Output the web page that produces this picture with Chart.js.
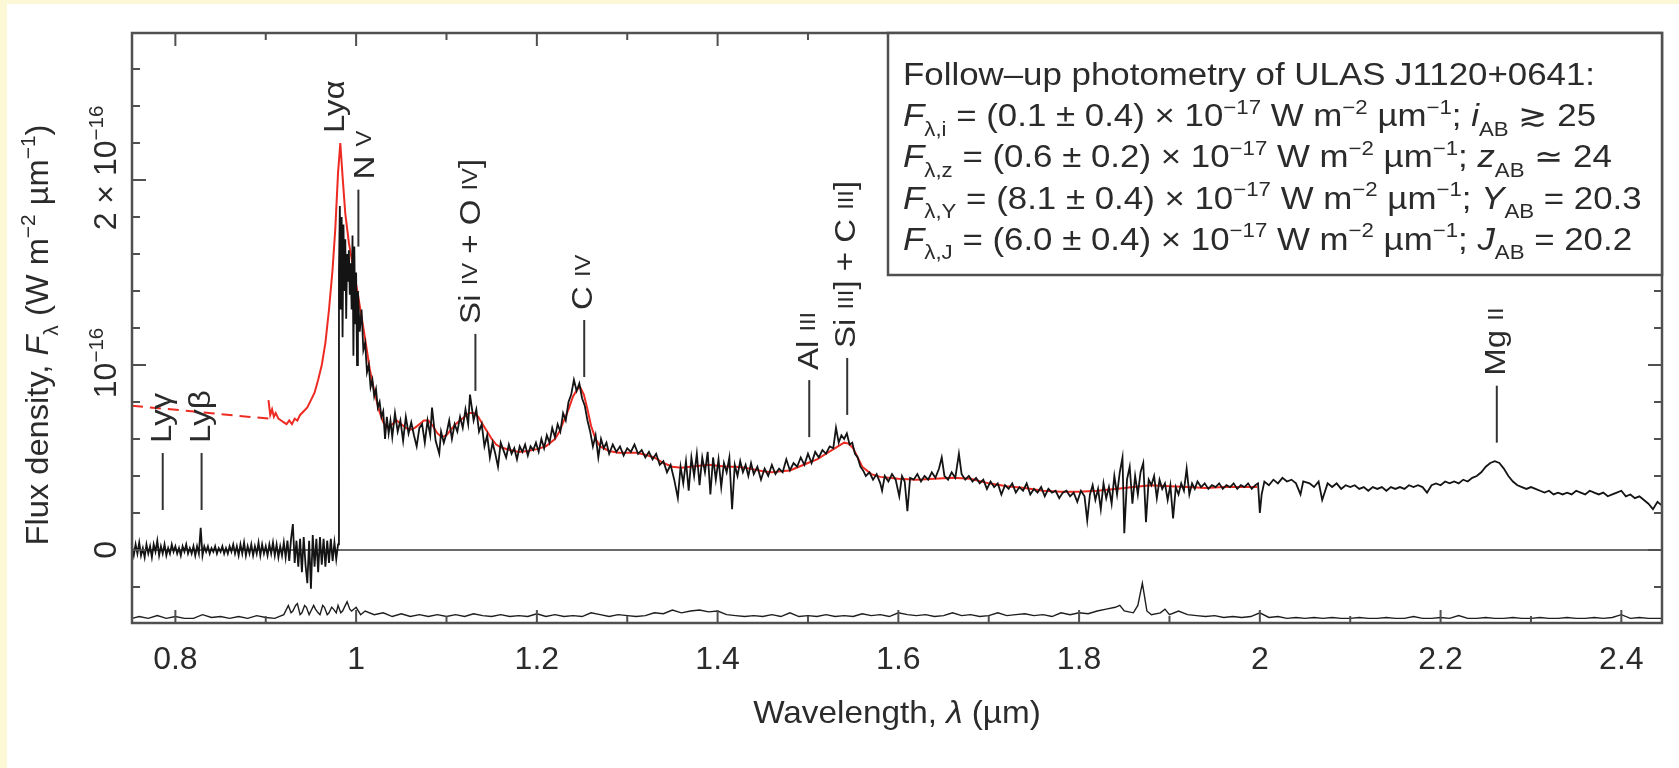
<!DOCTYPE html>
<html>
<head>
<meta charset="utf-8">
<title>ULAS J1120+0641 spectrum</title>
<script src="https://cdn.jsdelivr.net/npm/chart.js@4.4.1/dist/chart.umd.min.js"></script>
<style>
  html, body { margin: 0; padding: 0; background: #fcf8d6; }
  #wrap { width: 1679px; height: 768px; position: relative; }
</style>
</head>
<body>
<div id="wrap"><canvas id="spectrum"></canvas></div>
<script>
// flux in units of 1e-16 W m^-2 um^-1, wavelength in um
const waveRange = [0.752, 2.445];
const fluxRange = [-0.395, 2.795];

// observed spectrum (black)
const observedFlux = [
  [0.752, 0.02], [0.754, -0.03], [0.756, 0.03], [0.758, -0.02], [0.760, 0.04], [0.762, -0.03],
  [0.764, 0.01], [0.766, -0.04], [0.768, 0.03], [0.770, -0.02], [0.772, 0.02], [0.774, -0.04],
  [0.776, 0.03], [0.778, -0.01], [0.780, 0.05], [0.782, -0.03], [0.784, 0.02], [0.786, -0.02],
  [0.788, 0.03], [0.790, -0.03], [0.792, 0.01], [0.794, -0.02], [0.796, 0.03], [0.798, -0.01],
  [0.800, 0.02], [0.802, -0.02], [0.804, 0.01], [0.806, -0.03], [0.808, 0.02], [0.810, -0.01],
  [0.812, 0.03], [0.814, -0.02], [0.816, 0.01], [0.818, -0.02], [0.820, 0.02], [0.822, -0.03],
  [0.824, 0.02], [0.826, -0.02], [0.828, 0.12], [0.830, -0.03], [0.832, 0.02], [0.834, -0.01],
  [0.836, 0.02], [0.838, -0.02], [0.840, 0.01], [0.842, -0.01], [0.844, 0.02], [0.846, -0.02],
  [0.848, 0.01], [0.850, -0.01], [0.852, 0.02], [0.854, -0.02], [0.856, 0.01], [0.858, -0.02],
  [0.860, 0.02], [0.862, -0.01], [0.864, 0.03], [0.866, -0.02], [0.868, 0.02], [0.870, -0.03],
  [0.872, 0.03], [0.874, -0.02], [0.876, 0.04], [0.878, -0.03], [0.880, 0.02], [0.882, -0.02],
  [0.884, 0.03], [0.886, -0.03], [0.888, 0.02], [0.890, -0.02], [0.892, 0.04], [0.894, -0.03],
  [0.896, 0.03], [0.898, -0.02], [0.900, 0.02], [0.902, -0.03], [0.904, 0.03], [0.906, -0.02],
  [0.908, 0.04], [0.910, -0.03], [0.912, 0.03], [0.914, -0.04], [0.916, 0.02], [0.918, -0.03],
  [0.920, 0.04], [0.922, -0.04], [0.924, 0.05], [0.926, -0.06], [0.928, 0.06], [0.930, 0.14],
  [0.932, -0.07], [0.934, 0.05], [0.936, -0.09], [0.938, 0.06], [0.940, -0.12], [0.942, 0.07],
  [0.944, -0.08], [0.946, -0.18], [0.948, 0.05], [0.950, -0.21], [0.952, 0.08], [0.954, -0.09],
  [0.956, 0.06], [0.958, -0.12], [0.960, 0.07], [0.962, -0.08], [0.964, 0.06], [0.966, -0.09],
  [0.968, 0.05], [0.970, -0.07], [0.972, 0.06], [0.974, -0.06], [0.976, 0.04], [0.978, -0.05],
  [0.980, 0.03],
  [0.981, 1.50], [0.982, 1.86], [0.983, 1.30], [0.984, 1.80], [0.985, 1.15], [0.986, 1.76],
  [0.987, 1.40], [0.988, 1.68], [0.989, 1.25], [0.990, 1.60], [0.991, 1.45], [0.992, 1.62],
  [0.993, 1.38], [0.994, 1.55], [0.995, 1.30], [0.996, 1.70], [0.997, 1.05], [0.998, 1.64],
  [0.999, 1.22], [1.000, 1.50], [1.001, 1.00], [1.002, 1.40], [1.004, 1.18], [1.006, 1.30],
  [1.008, 1.08], [1.010, 1.12], [1.012, 0.96], [1.014, 1.00], [1.016, 0.88], [1.018, 0.92],
  [1.020, 0.83], [1.022, 0.87], [1.024, 0.77], [1.026, 0.80], [1.028, 0.72], [1.030, 0.75],
  [1.032, 0.60], [1.034, 0.72], [1.036, 0.63], [1.038, 0.70], [1.040, 0.61], [1.043, 0.74],
  [1.046, 0.64], [1.049, 0.70], [1.052, 0.59], [1.055, 0.72], [1.058, 0.63], [1.061, 0.69],
  [1.064, 0.62], [1.067, 0.56], [1.070, 0.66], [1.073, 0.68], [1.076, 0.58], [1.079, 0.70],
  [1.082, 0.62], [1.084, 0.77], [1.088, 0.59], [1.092, 0.52], [1.094, 0.64], [1.097, 0.58],
  [1.100, 0.63], [1.103, 0.70], [1.106, 0.60], [1.109, 0.68], [1.112, 0.64], [1.115, 0.72],
  [1.118, 0.66], [1.121, 0.76], [1.124, 0.68], [1.126, 0.84], [1.130, 0.70], [1.133, 0.76],
  [1.136, 0.64], [1.139, 0.68], [1.142, 0.56], [1.145, 0.62], [1.148, 0.50], [1.151, 0.58],
  [1.154, 0.52], [1.157, 0.45], [1.160, 0.58], [1.163, 0.54], [1.166, 0.50], [1.169, 0.57],
  [1.172, 0.52], [1.175, 0.55], [1.178, 0.49], [1.181, 0.56], [1.184, 0.53], [1.187, 0.57],
  [1.190, 0.51], [1.193, 0.56], [1.196, 0.54], [1.199, 0.58], [1.202, 0.53], [1.205, 0.60],
  [1.208, 0.55], [1.211, 0.62], [1.214, 0.58], [1.217, 0.66], [1.220, 0.61], [1.223, 0.68],
  [1.226, 0.64], [1.229, 0.74], [1.232, 0.70], [1.235, 0.80], [1.238, 0.84], [1.241, 0.92],
  [1.244, 0.86], [1.247, 0.90], [1.250, 0.82], [1.253, 0.78], [1.256, 0.70], [1.259, 0.64],
  [1.262, 0.56], [1.265, 0.62], [1.268, 0.50], [1.271, 0.60], [1.274, 0.55], [1.277, 0.58],
  [1.280, 0.52], [1.284, 0.57], [1.288, 0.53], [1.292, 0.56], [1.296, 0.51], [1.300, 0.55],
  [1.304, 0.53], [1.308, 0.57], [1.312, 0.52], [1.316, 0.54], [1.320, 0.50], [1.324, 0.53],
  [1.328, 0.49], [1.332, 0.52], [1.336, 0.46], [1.340, 0.48], [1.344, 0.42], [1.348, 0.46],
  [1.352, 0.38], [1.356, 0.28], [1.359, 0.45], [1.362, 0.36], [1.365, 0.48], [1.368, 0.32],
  [1.371, 0.50], [1.374, 0.40], [1.377, 0.52], [1.380, 0.35], [1.383, 0.50], [1.386, 0.42],
  [1.389, 0.53], [1.392, 0.30], [1.395, 0.50], [1.398, 0.38], [1.401, 0.49], [1.404, 0.34],
  [1.407, 0.47], [1.410, 0.42], [1.413, 0.50], [1.416, 0.22], [1.419, 0.46], [1.422, 0.40],
  [1.425, 0.48], [1.428, 0.42], [1.431, 0.46], [1.434, 0.40], [1.437, 0.47], [1.440, 0.41],
  [1.444, 0.45], [1.448, 0.38], [1.452, 0.44], [1.456, 0.40], [1.460, 0.46], [1.464, 0.41],
  [1.468, 0.44], [1.472, 0.42], [1.476, 0.49], [1.480, 0.43], [1.484, 0.47], [1.488, 0.45],
  [1.492, 0.50], [1.496, 0.46], [1.500, 0.52], [1.504, 0.47], [1.508, 0.53], [1.512, 0.50],
  [1.516, 0.54], [1.520, 0.52], [1.524, 0.56], [1.528, 0.55], [1.531, 0.66], [1.534, 0.58],
  [1.537, 0.62], [1.540, 0.60], [1.543, 0.63], [1.546, 0.57], [1.549, 0.58], [1.552, 0.52],
  [1.555, 0.50], [1.558, 0.45], [1.561, 0.43], [1.564, 0.40], [1.568, 0.42], [1.572, 0.38],
  [1.576, 0.41], [1.580, 0.36], [1.582, 0.32], [1.585, 0.40], [1.589, 0.37], [1.593, 0.41],
  [1.597, 0.38], [1.601, 0.29], [1.604, 0.40], [1.607, 0.37], [1.610, 0.21], [1.613, 0.39],
  [1.617, 0.38], [1.621, 0.41], [1.625, 0.37], [1.629, 0.40], [1.633, 0.38], [1.637, 0.42],
  [1.641, 0.39], [1.645, 0.44], [1.648, 0.50], [1.651, 0.40], [1.655, 0.38], [1.659, 0.42],
  [1.663, 0.39], [1.667, 0.52], [1.670, 0.41], [1.674, 0.38], [1.678, 0.40], [1.682, 0.37],
  [1.686, 0.39], [1.690, 0.36], [1.694, 0.38], [1.698, 0.33], [1.702, 0.37], [1.706, 0.34],
  [1.710, 0.36], [1.714, 0.30], [1.718, 0.35], [1.722, 0.33], [1.726, 0.36], [1.730, 0.31],
  [1.734, 0.34], [1.738, 0.32], [1.742, 0.36], [1.746, 0.30], [1.750, 0.33], [1.754, 0.31],
  [1.758, 0.34], [1.762, 0.29], [1.766, 0.33], [1.770, 0.31], [1.774, 0.32], [1.778, 0.28],
  [1.782, 0.31], [1.786, 0.32], [1.790, 0.29], [1.794, 0.31], [1.798, 0.26], [1.802, 0.32],
  [1.806, 0.29], [1.809, 0.16], [1.812, 0.30], [1.815, 0.35], [1.818, 0.27], [1.821, 0.33],
  [1.824, 0.22], [1.827, 0.36], [1.830, 0.28], [1.833, 0.34], [1.836, 0.25], [1.839, 0.40],
  [1.842, 0.30], [1.845, 0.42], [1.848, 0.50], [1.850, 0.09], [1.853, 0.38], [1.856, 0.45],
  [1.859, 0.25], [1.862, 0.40], [1.865, 0.30], [1.868, 0.42], [1.871, 0.47], [1.874, 0.15],
  [1.877, 0.38], [1.880, 0.35], [1.883, 0.40], [1.886, 0.28], [1.889, 0.38], [1.892, 0.33],
  [1.895, 0.36], [1.898, 0.27], [1.901, 0.35], [1.904, 0.17], [1.907, 0.34], [1.910, 0.30],
  [1.913, 0.36], [1.916, 0.32], [1.919, 0.44], [1.922, 0.30], [1.925, 0.36], [1.928, 0.33],
  [1.931, 0.37], [1.935, 0.34], [1.939, 0.36], [1.943, 0.33], [1.947, 0.35], [1.951, 0.34],
  [1.955, 0.36], [1.959, 0.33], [1.963, 0.35], [1.967, 0.34], [1.971, 0.36], [1.975, 0.33],
  [1.979, 0.35], [1.983, 0.34], [1.987, 0.36], [1.991, 0.33], [1.995, 0.35], [1.998, 0.36],
  [2.000, 0.20], [2.002, 0.30], [2.005, 0.37], [2.010, 0.35], [2.015, 0.38], [2.020, 0.36],
  [2.025, 0.39], [2.030, 0.37], [2.035, 0.38], [2.040, 0.36], [2.045, 0.30], [2.048, 0.37],
  [2.055, 0.36], [2.060, 0.34], [2.065, 0.37], [2.069, 0.27], [2.075, 0.36], [2.080, 0.34],
  [2.085, 0.36], [2.090, 0.33], [2.095, 0.35], [2.100, 0.34], [2.105, 0.35], [2.110, 0.33],
  [2.115, 0.34], [2.120, 0.32], [2.125, 0.34], [2.130, 0.33], [2.135, 0.34], [2.140, 0.32],
  [2.145, 0.34], [2.150, 0.33], [2.155, 0.34], [2.160, 0.33], [2.165, 0.35], [2.170, 0.34],
  [2.175, 0.35], [2.180, 0.34], [2.185, 0.31], [2.190, 0.35], [2.195, 0.36], [2.200, 0.35],
  [2.205, 0.37], [2.210, 0.36], [2.215, 0.37], [2.220, 0.36], [2.225, 0.38], [2.230, 0.37],
  [2.235, 0.39], [2.240, 0.40], [2.245, 0.42], [2.250, 0.45], [2.255, 0.47], [2.260, 0.48],
  [2.265, 0.47], [2.270, 0.44], [2.275, 0.40], [2.280, 0.37], [2.285, 0.35], [2.290, 0.34],
  [2.295, 0.33], [2.300, 0.34], [2.305, 0.33], [2.310, 0.32], [2.315, 0.31], [2.320, 0.32],
  [2.325, 0.30], [2.330, 0.31], [2.335, 0.30], [2.340, 0.31], [2.345, 0.30], [2.350, 0.32],
  [2.355, 0.31], [2.360, 0.30], [2.365, 0.32], [2.370, 0.31], [2.375, 0.30], [2.380, 0.31],
  [2.385, 0.29], [2.390, 0.30], [2.395, 0.31], [2.400, 0.32], [2.405, 0.29], [2.410, 0.30],
  [2.415, 0.28], [2.420, 0.29], [2.425, 0.27], [2.430, 0.25], [2.435, 0.22], [2.440, 0.26],
  [2.445, 0.24]
];

// composite quasar model (red solid)
const modelFlux = [
  [0.903, 0.81], [0.905, 0.73], [0.907, 0.76], [0.909, 0.72], [0.911, 0.74], [0.914, 0.71],
  [0.917, 0.70], [0.920, 0.69], [0.923, 0.68], [0.926, 0.70], [0.929, 0.68], [0.932, 0.71],
  [0.935, 0.70], [0.938, 0.73], [0.942, 0.75], [0.946, 0.77], [0.950, 0.81], [0.954, 0.85],
  [0.958, 0.92], [0.962, 1.00], [0.966, 1.12], [0.970, 1.30], [0.974, 1.52], [0.977, 1.74],
  [0.980, 2.04], [0.9825, 2.20], [0.985, 2.02], [0.988, 1.82], [0.992, 1.66], [0.997, 1.52],
  [1.002, 1.38], [1.006, 1.26], [1.010, 1.14], [1.015, 0.98], [1.020, 0.86], [1.025, 0.76],
  [1.030, 0.69], [1.035, 0.66], [1.040, 0.68], [1.045, 0.70], [1.050, 0.68], [1.055, 0.66],
  [1.060, 0.65], [1.065, 0.66], [1.070, 0.68], [1.075, 0.70], [1.080, 0.70], [1.085, 0.67],
  [1.090, 0.63], [1.095, 0.61], [1.100, 0.62], [1.105, 0.65], [1.110, 0.68], [1.115, 0.70],
  [1.120, 0.72], [1.125, 0.74], [1.130, 0.74], [1.135, 0.72], [1.140, 0.68], [1.145, 0.64],
  [1.150, 0.60], [1.155, 0.57], [1.160, 0.555], [1.170, 0.54], [1.180, 0.53], [1.190, 0.535],
  [1.200, 0.545], [1.210, 0.56], [1.220, 0.60], [1.225, 0.64], [1.230, 0.70], [1.235, 0.76],
  [1.240, 0.83], [1.245, 0.87], [1.248, 0.88], [1.252, 0.84], [1.256, 0.76], [1.260, 0.67],
  [1.265, 0.60], [1.270, 0.56], [1.280, 0.535], [1.290, 0.525], [1.300, 0.525], [1.310, 0.525],
  [1.320, 0.515], [1.330, 0.50], [1.340, 0.47], [1.350, 0.45], [1.360, 0.445], [1.370, 0.45],
  [1.380, 0.455], [1.390, 0.46], [1.400, 0.455], [1.410, 0.45], [1.420, 0.45], [1.430, 0.445],
  [1.440, 0.435], [1.450, 0.425], [1.460, 0.42], [1.470, 0.425], [1.480, 0.43], [1.490, 0.45],
  [1.500, 0.47], [1.510, 0.49], [1.520, 0.52], [1.530, 0.55], [1.540, 0.58], [1.545, 0.575],
  [1.550, 0.55], [1.555, 0.50], [1.560, 0.45], [1.570, 0.41], [1.580, 0.395], [1.600, 0.385],
  [1.620, 0.38], [1.640, 0.385], [1.660, 0.39], [1.680, 0.385], [1.700, 0.36], [1.720, 0.345],
  [1.740, 0.335], [1.760, 0.32], [1.780, 0.315], [1.800, 0.315], [1.820, 0.32], [1.840, 0.33],
  [1.860, 0.34], [1.880, 0.35], [1.900, 0.345], [1.920, 0.34], [1.940, 0.335], [1.960, 0.34],
  [1.980, 0.34], [1.997, 0.34]
];

// model continuation blueward of the data (red dashed)
const modelExtension = [[0.752, 0.78], [0.903, 0.71]];

// noise spectrum (bottom trace)
const noiseFlux = [
  [0.752, -0.37], [0.760, -0.36], [0.770, -0.37], [0.780, -0.355], [0.790, -0.37], [0.800, -0.36],
  [0.810, -0.37], [0.820, -0.37], [0.830, -0.35], [0.840, -0.365], [0.850, -0.36], [0.860, -0.37],
  [0.870, -0.36], [0.880, -0.37], [0.890, -0.355], [0.900, -0.365], [0.910, -0.37], [0.920, -0.35],
  [0.925, -0.30], [0.928, -0.34], [0.930, -0.33], [0.933, -0.30], [0.935, -0.29], [0.938, -0.35],
  [0.940, -0.34], [0.943, -0.30], [0.945, -0.31], [0.948, -0.35], [0.950, -0.33], [0.953, -0.30],
  [0.955, -0.32], [0.958, -0.34], [0.960, -0.35], [0.963, -0.30], [0.965, -0.31], [0.968, -0.35],
  [0.970, -0.34], [0.973, -0.31], [0.975, -0.32], [0.978, -0.34], [0.980, -0.30], [0.983, -0.34],
  [0.985, -0.33], [0.988, -0.30], [0.990, -0.28], [0.993, -0.32], [0.995, -0.33], [1.000, -0.31],
  [1.005, -0.35], [1.010, -0.33],
  [1.020, -0.35], [1.030, -0.34], [1.040, -0.36], [1.050, -0.345], [1.060, -0.36], [1.070, -0.35],
  [1.080, -0.36], [1.090, -0.35], [1.100, -0.36], [1.110, -0.35], [1.120, -0.36], [1.130, -0.345],
  [1.140, -0.355], [1.150, -0.36], [1.160, -0.35], [1.170, -0.36], [1.180, -0.355], [1.190, -0.36],
  [1.200, -0.345], [1.210, -0.36], [1.220, -0.35], [1.230, -0.36], [1.240, -0.355], [1.250, -0.36],
  [1.260, -0.34], [1.270, -0.35], [1.280, -0.36], [1.290, -0.35], [1.300, -0.355], [1.310, -0.36],
  [1.320, -0.355], [1.330, -0.34], [1.340, -0.345], [1.350, -0.325], [1.360, -0.34], [1.370, -0.33],
  [1.380, -0.325], [1.390, -0.335], [1.400, -0.33], [1.410, -0.35], [1.420, -0.355], [1.430, -0.36],
  [1.440, -0.355], [1.450, -0.36], [1.460, -0.35], [1.470, -0.36], [1.480, -0.34], [1.490, -0.36],
  [1.500, -0.355], [1.510, -0.36], [1.520, -0.35], [1.530, -0.36], [1.540, -0.355], [1.550, -0.36],
  [1.560, -0.345], [1.570, -0.355], [1.580, -0.35], [1.590, -0.36], [1.600, -0.34], [1.610, -0.35],
  [1.620, -0.355], [1.630, -0.35], [1.640, -0.36], [1.650, -0.355], [1.660, -0.34], [1.670, -0.355],
  [1.680, -0.35], [1.690, -0.36], [1.700, -0.355], [1.710, -0.34], [1.720, -0.355], [1.730, -0.35],
  [1.740, -0.345], [1.750, -0.355], [1.760, -0.35], [1.770, -0.36], [1.780, -0.34], [1.790, -0.35],
  [1.800, -0.34], [1.810, -0.345], [1.820, -0.33], [1.830, -0.32], [1.840, -0.31], [1.845, -0.30],
  [1.850, -0.33], [1.860, -0.34], [1.865, -0.30], [1.870, -0.18], [1.875, -0.33], [1.880, -0.35],
  [1.890, -0.34], [1.895, -0.32], [1.900, -0.35], [1.910, -0.33], [1.920, -0.35], [1.930, -0.355],
  [1.940, -0.36], [1.950, -0.355], [1.960, -0.365], [1.970, -0.36], [1.980, -0.365], [1.990, -0.36],
  [2.000, -0.34], [2.010, -0.365], [2.020, -0.36], [2.030, -0.37], [2.040, -0.365], [2.050, -0.37],
  [2.060, -0.365], [2.070, -0.37], [2.080, -0.365], [2.090, -0.37], [2.100, -0.37], [2.110, -0.365],
  [2.120, -0.37], [2.130, -0.37], [2.140, -0.365], [2.150, -0.37], [2.160, -0.37], [2.170, -0.36],
  [2.180, -0.37], [2.190, -0.37], [2.200, -0.365], [2.210, -0.37], [2.220, -0.355], [2.230, -0.37],
  [2.240, -0.37], [2.250, -0.365], [2.260, -0.37], [2.270, -0.37], [2.280, -0.365], [2.290, -0.37],
  [2.300, -0.37], [2.310, -0.365], [2.320, -0.37], [2.330, -0.37], [2.340, -0.365], [2.350, -0.37],
  [2.360, -0.37], [2.370, -0.365], [2.380, -0.37], [2.390, -0.365], [2.400, -0.35], [2.410, -0.37],
  [2.420, -0.365], [2.430, -0.37], [2.445, -0.37]
];

// emission line identifications
const lineNames = ["Lyγ", "Lyβ", "Lyα", "N v", "Si iv + O iv]", "C iv", "Al iii", "Si iii] + C iii]", "Mg ii"];
const lineWaves = [0.786, 0.829, 0.982, 1.0025, 1.132, 1.2524, 1.5014, 1.5434, 2.2622];
// flux level where each marker starts (Lyα has no marker)
const lineMarkBase = [0.216, 0.216, 2.254, 1.64, 0.86, 0.935, 0.61, 0.73, 0.58];
const lineHasMark = [true, true, false, true, true, true, true, true, true];
const lineLabelShift = [0, 0, -4, 7, -4, 0, 0, 0, 0];

const photometryLines = [
  [{ t: "Follow–up photometry of ULAS J1120+0641:" }],
  ["i", "(0.1 ± 0.4)", "i", " ≳ 25"],
  ["z", "(0.6 ± 0.2)", "z", " ≃ 24"],
  ["Y", "(8.1 ± 0.4)", "Y", " = 20.3"],
  ["J", "(6.0 ± 0.4)", "J", " = 20.2"]
];

const FONT = '"Liberation Sans", Arial, Helvetica, sans-serif';
const INK = "#2b2b2b";
const FRAME = "#505050";

Chart.defaults.font.family = FONT;
Chart.defaults.color = INK;

function fontOf(run, base) {
  let size = base;
  if (run.rel === "sup" || run.rel === "sub") size = base * 0.64;
  if (run.rel === "sc") size = base * 0.72;
  return (run.italic ? "italic " : "") + size.toFixed(1) + "px " + FONT;
}

function runShift(run, base) {
  if (run.rel === "sup") return -0.4 * base;
  if (run.rel === "sub") return 0.3 * base;
  return 0;
}

function measureRuns(ctx, runs, base) {
  let w = 0;
  runs.forEach((r) => {
    ctx.font = fontOf(r, base);
    w += ctx.measureText(r.t).width;
  });
  return w;
}

// draw a list of text runs (italic / sup / sub / small caps) left to right
function drawRuns(ctx, runs, x, y, base, opt = {}) {
  ctx.save();
  ctx.translate(x, y);
  if (opt.rotate) ctx.rotate(-Math.PI / 2);
  ctx.scale(opt.sx || 1, 1);
  ctx.fillStyle = INK;
  ctx.textAlign = "left";
  ctx.textBaseline = opt.baseline || "alphabetic";
  let cx = opt.align === "center" ? -measureRuns(ctx, runs, base) / 2 : 0;
  runs.forEach((r) => {
    ctx.font = fontOf(r, base);
    ctx.fillText(r.t, cx, runShift(r, base));
    cx += ctx.measureText(r.t).width;
  });
  ctx.restore();
}

// lower case roman numerals are set as small capitals
function lineRuns(name) {
  return name.split(/\b(iv|v|i{1,3})\b/).filter((s) => s.length).map((s) =>
    /^(iv|v|i{1,3})$/.test(s) ? { t: s.toUpperCase(), rel: "sc" } : { t: s });
}

function photometryRuns(row) {
  if (row.length === 1) return row;
  const [band, value, mag, rest] = row;
  return [
    { t: "F", italic: true }, { t: "λ," + band, rel: "sub" },
    { t: " = " + value + " × 10" }, { t: "−17", rel: "sup" },
    { t: " W m" }, { t: "−2", rel: "sup" }, { t: " µm" }, { t: "−1", rel: "sup" },
    { t: "; " }, { t: mag, italic: true }, { t: "AB", rel: "sub" }, { t: rest }
  ];
}

const pagePlugin = {
  id: "page",
  beforeDraw(chart) {
    const { ctx, width, height } = chart;
    ctx.save();
    ctx.fillStyle = "#fcf8d6";
    ctx.fillRect(0, 0, width, height);
    ctx.fillStyle = "#ffffff";
    ctx.fillRect(7, 4, width - 7, height - 4);
    ctx.restore();
  },
  beforeDatasetsDraw(chart) {
    const { ctx, chartArea: a, scales: { y } } = chart;
    const y0 = y.getPixelForValue(0);
    ctx.save();
    ctx.strokeStyle = "#6a6a6a";
    ctx.lineWidth = 2;
    ctx.beginPath();
    ctx.moveTo(a.left, y0);
    ctx.lineTo(a.right, y0);
    ctx.stroke();
    ctx.restore();
  },
  afterDatasetsDraw(chart) {
    const { ctx, chartArea: a, scales: { x, y } } = chart;
    ctx.save();
    ctx.strokeStyle = FRAME;
    ctx.lineWidth = 2;
    ctx.beginPath();
    // inward ticks on all four sides
    for (let k = 8; k <= 24; k++) {
      const px = x.getPixelForValue(k / 10);
      const len = k % 2 === 0 ? 13 : 7;
      ctx.moveTo(px, a.top); ctx.lineTo(px, a.top + len);
      ctx.moveTo(px, a.bottom); ctx.lineTo(px, a.bottom - len);
    }
    for (let k = -1; k <= 13; k++) {
      const py = y.getPixelForValue(k * 0.2);
      const len = k % 5 === 0 ? 14 : 8;
      ctx.moveTo(a.left, py); ctx.lineTo(a.left + len, py);
      ctx.moveTo(a.right, py); ctx.lineTo(a.right - len, py);
    }
    ctx.stroke();
    ctx.lineWidth = 2.5;
    ctx.strokeRect(a.left, a.top, a.right - a.left, a.bottom - a.top);

    // photometry box
    const bx = a.right - 774, bh = 242;
    ctx.fillStyle = "#ffffff";
    ctx.fillRect(bx, a.top, a.right - bx, bh);
    ctx.strokeRect(bx, a.top, a.right - bx, bh);
    const rows = photometryLines.map(photometryRuns);
    const sx = 692 / measureRuns(ctx, rows[0], 31);
    rows.forEach((runs, i) => drawRuns(ctx, runs, bx + 15, a.top + 52 + i * 41.2, 31, { sx }));

    // line identifications
    ctx.strokeStyle = "#333333";
    ctx.lineWidth = 2;
    lineNames.forEach((name, i) => {
      const px = x.getPixelForValue(lineWaves[i]);
      let py = y.getPixelForValue(lineMarkBase[i]);
      if (lineHasMark[i]) {
        ctx.beginPath();
        ctx.moveTo(px, py);
        ctx.lineTo(px, py - 57);
        ctx.stroke();
        py -= 67;
      }
      drawRuns(ctx, lineRuns(name), px + lineLabelShift[i], py, 30, { rotate: true, baseline: "middle", sx: 1.1 });
    });

    // y axis labels and titles
    const yLabels = [
      { v: 0, runs: [{ t: "0" }], off: 0 },
      { v: 1, runs: [{ t: "10" }, { t: "−16", rel: "sup" }], off: 2 },
      { v: 2, runs: [{ t: "2 × 10" }, { t: "−16", rel: "sup" }], off: 12 }
    ];
    yLabels.forEach((l) => drawRuns(ctx, l.runs, a.left - 16, y.getPixelForValue(l.v) - l.off, 32, { rotate: true, align: "center" }));
    drawRuns(ctx, [
      { t: "Flux density, " }, { t: "F", italic: true }, { t: "λ", rel: "sub" },
      { t: " (W m" }, { t: "−2", rel: "sup" }, { t: " µm" }, { t: "−1", rel: "sup" }, { t: ")" }
    ], a.left - 84, 335, 32, { rotate: true, align: "center", sx: 1.02 });
    drawRuns(ctx, [{ t: "Wavelength, " }, { t: "λ", italic: true }, { t: " (µm)" }],
      (a.left + a.right) / 2, 723, 32, { align: "center", sx: 1.04 });
    ctx.restore();
  }
};

const toPoints = (rows) => rows.map(([x, y]) => ({ x, y }));

new Chart(document.getElementById("spectrum"), {
  type: "line",
  data: {
    datasets: [
      {
        label: "noise",
        data: toPoints(noiseFlux),
        borderColor: "#1e1e1e",
        borderWidth: 1.4,
        pointRadius: 0,
      },
      {
        label: "observed",
        data: toPoints(observedFlux),
        borderColor: "#141414",
        borderWidth: 1.8,
        pointRadius: 0,
      },
      {
        label: "model",
        data: toPoints(modelFlux),
        borderColor: "#ee2b22",
        borderWidth: 2,
        pointRadius: 0,
      },
      {
        label: "model extension",
        data: toPoints(modelExtension),
        borderColor: "#ee2b22",
        borderWidth: 2,
        borderDash: [11, 7],
        pointRadius: 0,
      },
    ],
  },
  options: {
    responsive: true,
    maintainAspectRatio: false,
    animation: false,
    events: [],
    layout: { padding: { left: 7, right: 17, top: 33, bottom: 0 } },
    plugins: { legend: { display: false }, tooltip: { enabled: false } },
    scales: {
      x: {
        type: "linear",
        min: waveRange[0],
        max: waveRange[1],
        grid: { display: false, drawTicks: false },
        border: { display: false },
        ticks: {
          stepSize: 0.2,
          includeBounds: false,
          autoSkip: false,
          maxRotation: 0,
          padding: 18,
          color: INK,
          font: { size: 32 },
          callback: (v) => String(+v.toFixed(1)),
        },
        afterFit: (s) => { s.height = 145; },
      },
      y: {
        type: "linear",
        min: fluxRange[0],
        max: fluxRange[1],
        grid: { display: false, drawTicks: false },
        border: { display: false },
        ticks: { display: false },
        afterFit: (s) => { s.width = 125; },
      },
    },
  },
  plugins: [pagePlugin],
});
</script>
</body>
</html>
